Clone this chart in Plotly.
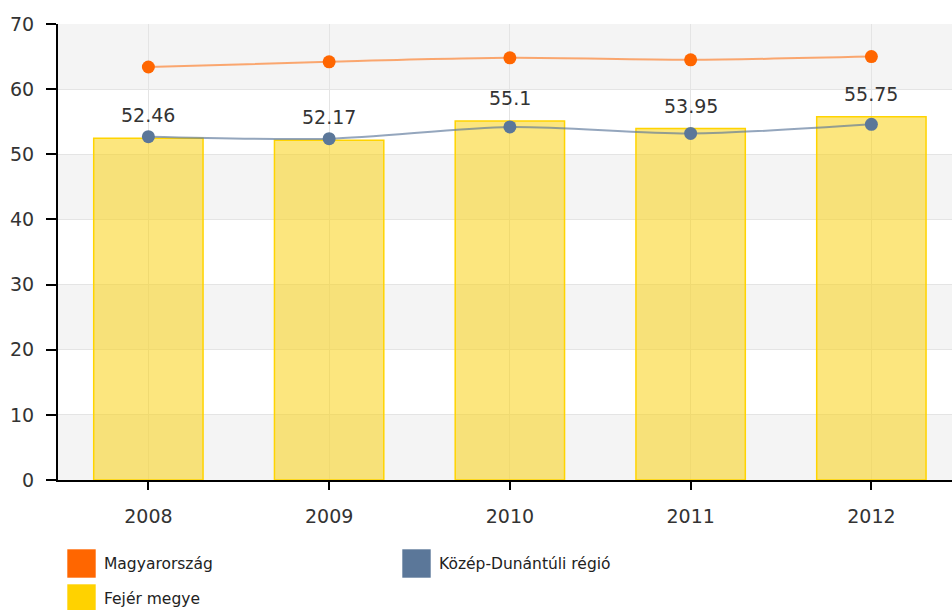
import plotly.graph_objects as go

years = ["2008", "2009", "2010", "2011", "2012"]
fejer = [52.46, 52.17, 55.1, 53.95, 55.75]
magyarorszag = [63.4, 64.2, 64.8, 64.5, 65.0]
kozep_dunantul = [52.7, 52.4, 54.2, 53.2, 54.6]
y_ticks = [0, 10, 20, 30, 40, 50, 60, 70]

name_hu = "Magyarország"
name_kd = "Közép-Dunántúli régió"
name_fj = "Fejér megye"

c_hu = "#FF6600"
c_kd = "#5B7799"
c_fj = "#FFD200"

FONT = "DejaVu Sans"

fig = go.Figure()

fig.add_trace(go.Bar(
    x=years, y=fejer, name=name_fj, width=0.605,
    marker=dict(color="rgba(250,210,20,0.55)", line=dict(color="#FFD400", width=1.5)),
    hoverinfo="y",
))
fig.add_trace(go.Scatter(
    x=years, y=kozep_dunantul, name=name_kd, mode="lines+markers",
    line=dict(color="rgba(91,119,153,0.65)", width=2, shape="spline", smoothing=0.8),
    marker=dict(color=c_kd, size=13),
))
fig.add_trace(go.Scatter(
    x=years, y=magyarorszag, name=name_hu, mode="lines+markers",
    line=dict(color="rgba(255,102,0,0.55)", width=2, shape="spline", smoothing=0.8),
    marker=dict(color=c_hu, size=13),
))

# alternating background bands
shapes = []
for lo in y_ticks[:-1:2]:
    shapes.append(dict(type="rect", xref="paper", yref="y", x0=0, x1=1, y0=lo, y1=lo + 10,
                       fillcolor="#F4F4F4", line=dict(width=0), layer="below"))

# legend drawn manually (large square swatches)
legend_items = [(name_hu, c_hu, 67, 549), (name_kd, c_kd, 402, 549), (name_fj, c_fj, 67, 584)]
W, H = 952, 610
ML, MR, MT, MB = 58, 0, 24, 130
pw, ph = W - ML - MR, H - MT - MB
annotations = []
for name, col, px, py in legend_items:
    x0 = (px - ML) / pw
    x1 = (px + 29 - ML) / pw
    y0 = 1 - (py - MT) / ph
    y1 = 1 - (py + 29 - MT) / ph
    shapes.append(dict(type="rect", xref="paper", yref="paper", x0=x0, x1=x1, y0=y1, y1=y0,
                       fillcolor=col, line=dict(color="rgba(255,255,255,0.6)", width=1)))
    annotations.append(dict(xref="paper", yref="paper", x=(px + 35 - ML) / pw,
                            y=1 - (py + 15 - MT) / ph, text=name, showarrow=False,
                            xanchor="left", yanchor="middle",
                            font=dict(family=FONT, size=15.5, color="#222222")))

for i, v in enumerate(fejer):
    annotations.append(dict(x=i, y=v, xref="x", yref="y", text=str(v), showarrow=False,
                            yanchor="bottom", yshift=10,
                            font=dict(family=FONT, size=19, color="#333333")))

fig.update_layout(
    width=W, height=H,
    margin=dict(l=ML, r=MR, t=MT, b=MB),
    paper_bgcolor="white", plot_bgcolor="white",
    showlegend=False,
    font=dict(family=FONT, size=19, color="#333333"),
    shapes=shapes, annotations=annotations,
    xaxis=dict(type="category", range=[-0.5, -0.5 + pw / 180.75], showgrid=True,
               gridcolor="#E4E4E4",
               showline=True, linecolor="black", linewidth=2,
               ticks="outside", ticklen=8, tickcolor="black", tickwidth=1.5,
               ticklabelstandoff=10, zeroline=False, fixedrange=True),
    yaxis=dict(range=[0, 70], tickvals=y_ticks, showgrid=True, gridcolor="#E4E4E4",
               showline=True, linecolor="black", linewidth=2,
               ticks="outside", ticklen=10, tickcolor="black", tickwidth=1.5,
               ticklabelstandoff=8, zeroline=False, fixedrange=True),
)

fig.write_html("out.html", config={"displayModeBar": False},
               post_script="document.body.style.margin='0';")
